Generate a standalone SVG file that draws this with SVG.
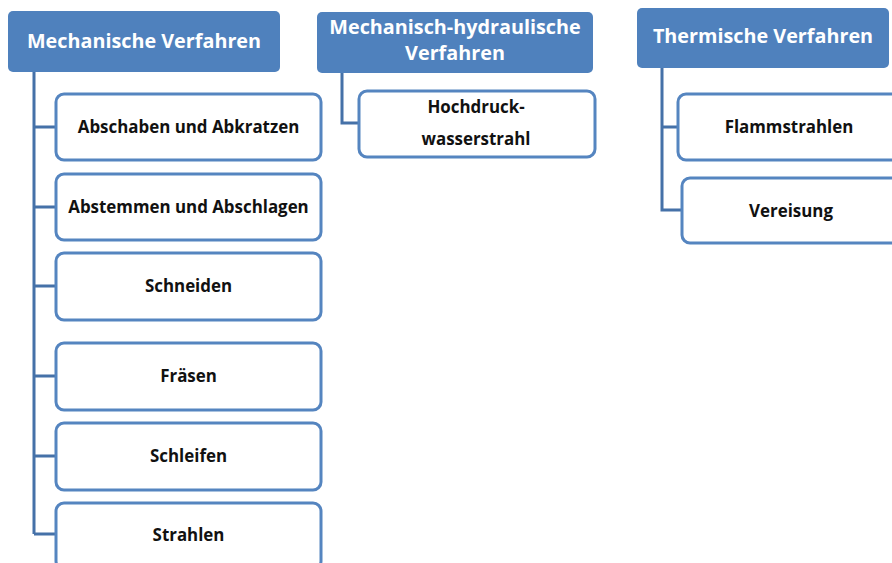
<svg xmlns="http://www.w3.org/2000/svg" width="892" height="563" viewBox="0 0 892 563">
  <style>
    .head rect { fill: #4f81bd; }
    .head text { fill: #ffffff; font-family: "Open Sans", "Liberation Sans", sans-serif; font-weight: bold; font-size: 19.8px; text-anchor: middle; }
    .item rect { fill: #ffffff; stroke: #5585c0; stroke-width: 3; }
    .item text { fill: #111111; font-family: "Open Sans", "Liberation Sans", sans-serif; font-weight: bold; font-size: 16.9px; text-anchor: middle; }
    .links path { fill: none; stroke: #4571a8; stroke-width: 3; }
  </style>
  <rect width="892" height="563" fill="#ffffff"/>

  <!-- tree connectors -->
  <g id="connectors" class="links">
    <path d="M34 72 V534 M34 127 H56 M34 207 H56 M34 286 H56 M34 376 H56 M34 456 H56 M34 534 H56"/>
    <path d="M342 73 V123 H359"/>
    <path d="M662 68 V210 H682 M662 127 H678"/>
  </g>

  <!-- column 1 -->
  <g id="mechanisch" class="head">
    <rect x="8" y="11" width="272" height="61" rx="5"/>
    <text x="144" y="48">Mechanische Verfahren</text>
  </g>
  <g id="abschaben" class="item">
    <rect x="56" y="94" width="265" height="66" rx="8"/>
    <text x="188.5" y="132.5">Abschaben und Abkratzen</text>
  </g>
  <g id="abstemmen" class="item">
    <rect x="56" y="174" width="265" height="66" rx="8"/>
    <text x="188.5" y="212.5">Abstemmen und Abschlagen</text>
  </g>
  <g id="schneiden" class="item">
    <rect x="56" y="253" width="265" height="67" rx="8"/>
    <text x="188.5" y="291.5">Schneiden</text>
  </g>
  <g id="fraesen" class="item">
    <rect x="56" y="343" width="265" height="67" rx="8"/>
    <text x="188.5" y="381.5">Fräsen</text>
  </g>
  <g id="schleifen" class="item">
    <rect x="56" y="423" width="265" height="67" rx="8"/>
    <text x="188.5" y="461.5">Schleifen</text>
  </g>
  <g id="strahlen" class="item">
    <rect x="56" y="503" width="265" height="66" rx="8"/>
    <text x="188.5" y="540.5">Strahlen</text>
  </g>

  <!-- column 2 -->
  <g id="hydraulisch" class="head">
    <rect x="317" y="12" width="276" height="61" rx="5"/>
    <text x="455" y="34">Mechanisch-hydraulische</text>
    <text x="455" y="60">Verfahren</text>
  </g>
  <g id="hochdruck" class="item">
    <rect x="359" y="91" width="236" height="66" rx="8"/>
    <text x="476" y="112.5">Hochdruck-</text>
    <text x="476" y="144.5">wasserstrahl</text>
  </g>

  <!-- column 3 -->
  <g id="thermisch" class="head">
    <rect x="637" y="8" width="252" height="60" rx="5"/>
    <text x="763" y="43">Thermische Verfahren</text>
  </g>
  <g id="flammstrahlen" class="item">
    <rect x="678" y="94" width="230" height="66" rx="8"/>
    <text x="789" y="132.5">Flammstrahlen</text>
  </g>
  <g id="vereisung" class="item">
    <rect x="682" y="178" width="230" height="65" rx="8"/>
    <text x="791" y="216.5">Vereisung</text>
  </g>
</svg>
